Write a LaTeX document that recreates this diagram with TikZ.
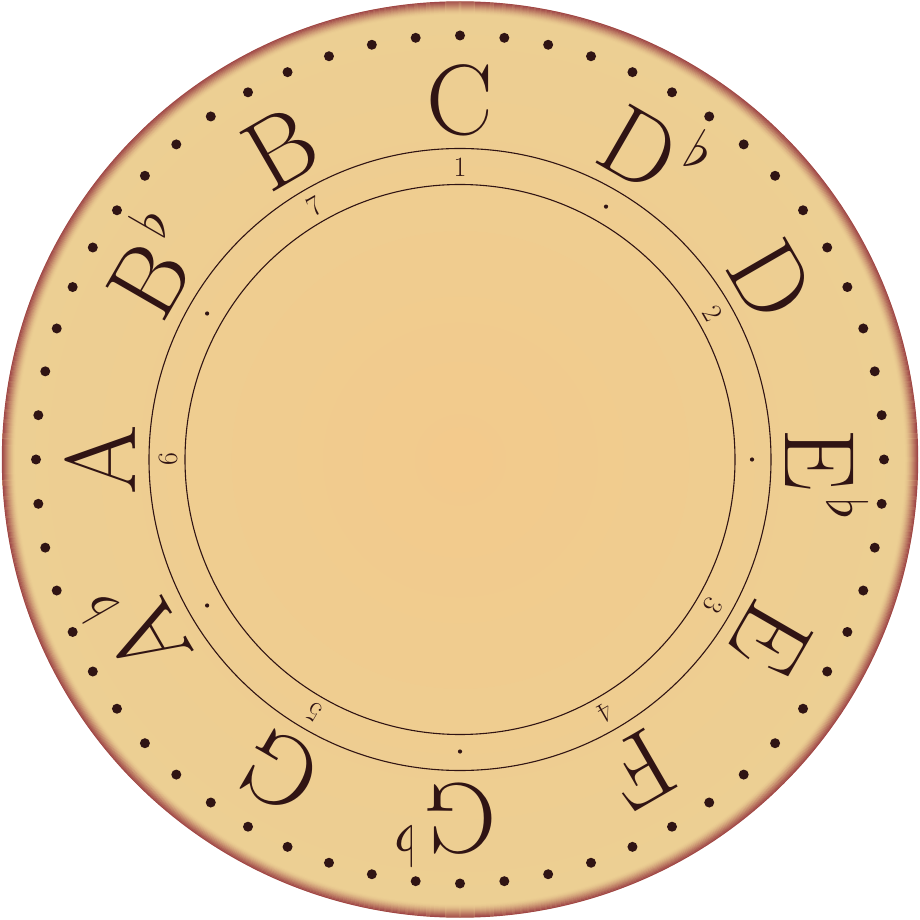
\documentclass[tikz,border=0pt]{standalone}
\usepackage{fontspec}
\usetikzlibrary{calc}
\definecolor{ink}{RGB}{48,20,20}
\definecolor{centerc}{RGB}{243,202,140}
\definecolor{edgec}{RGB}{236,207,147}
\definecolor{rimc}{RGB}{160,72,72}
\newcommand{\fl}{\rlap{\hspace{8pt}\raisebox{42pt}{\scalebox{5.5}{\fontsize{10}{10}\selectfont$\flat$}}}}
\tikzset{
  notelabel/.style={text=ink, inner sep=0pt, anchor=base, font=\fontsize{100}{100}\selectfont},
  degree/.style={text=ink, inner sep=0pt, anchor=center, font=\fontsize{28}{28}\selectfont},
  ringline/.style={draw=ink, line width=1.1pt}
}
\begin{document}
\begin{tikzpicture}[x=1pt,y=1pt]
\useasboundingbox (0,0) rectangle (920,919);
\coordinate (O) at (460,459.5);
% disc
\shade[inner color=centerc, outer color=edgec] (O) circle (458);
% rim
\foreach \i in {0,...,12}{
  \pgfmathsetmacro{\op}{(1-\i/13)^1.8}
  \draw[rimc, line width=1.2pt, draw opacity=\op] (O) circle (457.6-\i);
}
% rings
\draw[ringline] (O) circle (311);
\draw[ringline] (O) circle (275);
% outer dots
\foreach \a in {0,6,...,354}{
  \fill[ink] (O) ++(\a:424) circle (5);
}
% small dots between rings
\foreach \a in {60,0,-90,-150,150}{
  \fill[ink] (O) ++(\a:292) circle (2.1);
}
% note letters
\foreach \t/\a/\nm in {C/90/nC, {D\fl}/60/nDb, D/30/nD, {E\fl}/0/nEb, E/-30/nE, F/-60/nF, {G\fl}/-90/nGb, G/-120/nG, {A\fl}/-150/nAb, A/180/nA, {B\fl}/150/nBb, B/120/nB}{
  \node[notelabel, rotate=\a-90] (\nm) at ($(O)+(\a:325)$) {\t};
}
% scale degrees
\foreach \t/\a in {1/90, 2/30, 3/-30, 4/-60, 5/-120, 6/180, 7/120}{
  \node[degree, rotate=\a-90] (d\t) at ($(O)+(\a:292)$) {\t};
}
\end{tikzpicture}
\end{document}
